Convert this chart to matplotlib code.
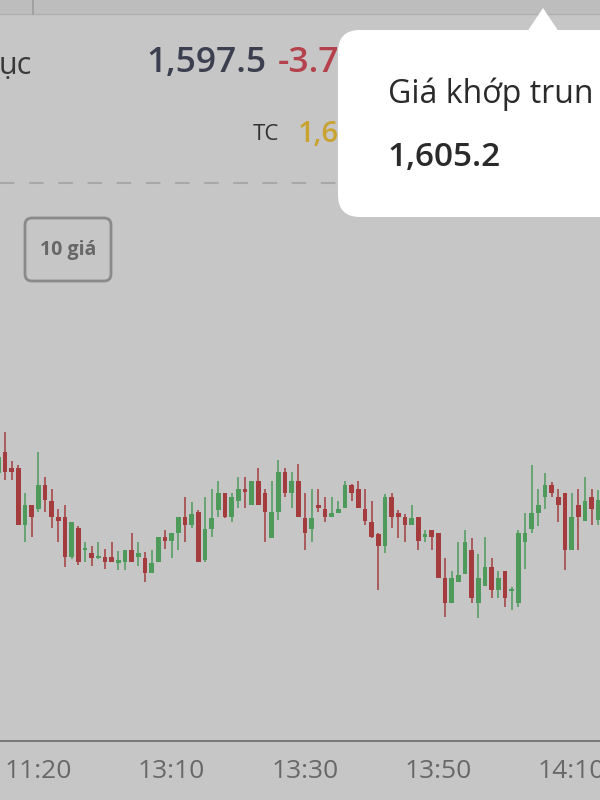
import numpy as np
import matplotlib.pyplot as plt
from matplotlib.patches import FancyBboxPatch, Polygon, Rectangle

plt.rcParams['font.family'] = ['Open Sans', 'DejaVu Sans']

# Nến 1 phút (giá mở, cao, thấp, đóng)
o = [1602.7, 1604.8, 1603.2, 1603.2, 1597.5, 1599.5, 1599.1, 1601.5, 1599.9, 1598.3,
     1598.3, 1594.3, 1597.2, 1595.0, 1594.7, 1594.2, 1594.3, 1594.3, 1593.7, 1593.8,
     1595.0, 1594.3, 1594.2, 1592.7, 1593.8, 1596.3, 1595.9, 1596.7, 1598.3, 1597.5,
     1598.8, 1594.0, 1597.1, 1599.0, 1600.7, 1598.3, 1599.9, 1601.1, 1599.5, 1601.9,
     1600.7, 1596.2, 1598.8, 1602.8, 1600.7, 1601.9, 1598.2, 1597.1, 1599.5, 1599.1,
     1598.3, 1598.7, 1599.2, 1601.5, 1601.1, 1599.1, 1597.8, 1596.6, 1595.4, 1600.3,
     1598.7, 1598.3, 1597.5, 1598.3, 1596.3, 1597.0, 1596.7, 1592.2, 1589.7, 1591.8,
     1592.6, 1595.0, 1589.7, 1591.4, 1593.3, 1591.0, 1592.9, 1590.9, 1589.7, 1595.8,
     1597.1, 1598.7, 1600.3, 1601.5, 1600.3, 1600.7, 1595.0, 1599.5, 1597.9, 1600.3,
     1598.0]
h = [1604.5, 1606.8, 1603.9, 1603.5, 1600.7, 1599.5, 1604.8, 1602.3, 1601.1, 1599.1,
     1599.5, 1597.8, 1597.4, 1595.8, 1595.4, 1595.8, 1595.1, 1595.8, 1594.9, 1595.0,
     1596.7, 1595.8, 1594.8, 1595.0, 1596.3, 1597.0, 1596.7, 1598.3, 1600.3, 1599.8,
     1599.0, 1600.3, 1601.1, 1601.9, 1600.7, 1600.7, 1602.3, 1602.3, 1601.9, 1603.2,
     1601.1, 1601.9, 1604.0, 1603.2, 1602.8, 1603.6, 1600.7, 1601.1, 1601.1, 1600.3,
     1600.3, 1599.9, 1601.9, 1601.6, 1601.9, 1601.1, 1599.9, 1596.7, 1600.6, 1600.7,
     1599.0, 1598.6, 1599.5, 1598.3, 1597.0, 1597.0, 1596.7, 1594.2, 1592.9, 1595.8,
     1597.0, 1596.2, 1594.6, 1596.3, 1594.2, 1592.9, 1592.9, 1591.3, 1597.0, 1598.7,
     1603.5, 1601.1, 1602.7, 1601.8, 1601.1, 1600.7, 1600.7, 1601.1, 1602.3, 1601.1,
     1601.0]
l = [1601.2, 1602.0, 1602.0, 1597.5, 1595.8, 1596.3, 1598.8, 1598.8, 1597.2, 1595.8,
     1593.3, 1594.1, 1593.5, 1593.8, 1593.4, 1594.1, 1593.1, 1593.8, 1593.0, 1593.0,
     1593.8, 1593.4, 1591.8, 1592.7, 1593.8, 1595.1, 1594.2, 1595.0, 1595.8, 1597.2,
     1593.8, 1593.8, 1596.3, 1598.3, 1598.2, 1597.8, 1599.2, 1599.2, 1599.5, 1599.5,
     1595.8, 1596.2, 1598.0, 1600.3, 1599.2, 1598.3, 1595.0, 1595.8, 1598.8, 1597.8,
     1598.3, 1598.7, 1599.2, 1599.9, 1599.2, 1597.5, 1596.2, 1591.0, 1594.7, 1597.2,
     1596.2, 1595.8, 1597.5, 1595.0, 1595.8, 1595.0, 1592.2, 1588.3, 1589.7, 1591.8,
     1592.6, 1589.7, 1588.2, 1591.4, 1590.2, 1590.2, 1589.3, 1589.0, 1589.3, 1593.1,
     1596.7, 1597.4, 1599.1, 1600.3, 1597.8, 1593.0, 1595.0, 1595.0, 1597.9, 1597.5,
     1597.5]
c = [1604.3, 1602.8, 1602.8, 1597.5, 1599.5, 1598.3, 1601.5, 1600.0, 1598.3, 1597.9,
     1594.3, 1597.8, 1593.8, 1595.1, 1594.2, 1594.4, 1593.8, 1593.8, 1594.0, 1595.0,
     1593.8, 1594.7, 1592.7, 1593.7, 1596.3, 1595.9, 1596.7, 1598.3, 1597.5, 1598.6,
     1593.8, 1597.1, 1598.2, 1600.7, 1598.3, 1600.3, 1601.1, 1600.8, 1601.9, 1599.5,
     1598.8, 1598.8, 1602.8, 1600.7, 1601.9, 1598.3, 1596.7, 1598.2, 1599.2, 1598.3,
     1598.7, 1599.1, 1601.5, 1600.7, 1599.2, 1597.9, 1596.3, 1595.4, 1600.3, 1598.3,
     1598.3, 1597.5, 1598.2, 1595.9, 1596.6, 1596.3, 1592.2, 1589.7, 1592.2, 1592.5,
     1595.8, 1590.2, 1592.2, 1593.3, 1591.0, 1592.2, 1590.2, 1591.1, 1596.7, 1596.7,
     1598.7, 1599.5, 1601.5, 1600.7, 1599.5, 1595.0, 1598.3, 1598.3, 1599.9, 1599.1,
     1600.0]

tick_pos = [6, 26, 46, 66, 86]
tick_labels = ['11:20', '13:10', '13:30', '13:50', '14:10']

gia_hien_tai = '1,597.5'
thay_doi = '-3.7'
gia_tc = '1,601.2'
gia_khop_tb = '1,605.2'

bg = '#c6c6c6'
do = '#a43c3e'
xanh = '#4d9a5b'

fig = plt.figure(figsize=(6, 8), dpi=100)
fig.patch.set_facecolor(bg)

# Biểu đồ nến
ax = fig.add_axes([0, 0.07375, 1, 0.56375])
ax.set_facecolor(bg)
o = np.array(o); h = np.array(h); l = np.array(l); c = np.array(c)
x = np.arange(len(o))
mau = np.where(c >= o, xanh, do)
ax.vlines(x, l, h, colors=mau, lw=1.1, zorder=2)
than = np.maximum(np.abs(c - o), 0.25)
ax.bar(x, than, bottom=np.minimum(o, c), width=0.68, color=mau, zorder=3)
ax.set_xlim(0.25, 90.25)
ax.set_ylim(1575.9, 1621.0)
for s in ['top', 'left', 'right']:
    ax.spines[s].set_visible(False)
ax.spines['bottom'].set_color('#767676')
ax.spines['bottom'].set_linewidth(1.4)
ax.set_yticks([])
ax.set_xticks(tick_pos)
ax.set_xticklabels(tick_labels)
ax.tick_params(axis='x', length=0, pad=13, labelsize=19, labelcolor='#686868')

# Lớp phủ: chữ, nút, tooltip (toạ độ pixel)
ov = fig.add_axes([0, 0, 1, 1])
ov.set_xlim(0, 600)
ov.set_ylim(800, 0)
ov.axis('off')
ov.patch.set_alpha(0)

ov.add_patch(Rectangle((0, 0), 600, 14, facecolor='#bdbdbd', edgecolor='none'))
ov.plot([0, 600], [14, 14], color='#b0b0b0', lw=1)
ov.plot([33, 33], [0, 14], color='#9c9c9c', lw=1.2)

ov.text(-1, 66, 'ục', fontsize=22, color='#3a3a3a', va='center', ha='left')
ov.text(146, 63, gia_hien_tai, fontsize=25.5, color='#3b3f4f', weight='semibold',
        va='center', ha='left')
ov.text(278, 63, thay_doi, fontsize=25.5, color='#b4414b', weight='semibold',
        va='center', ha='left')
ov.text(253, 135, 'TC', fontsize=16, color='#333333', va='center', ha='left')
ov.text(298, 135, gia_tc, fontsize=21, color='#c9a330', weight='semibold',
        va='center', ha='left')
ov.plot([0, 336], [183, 183], color='#a8a8a8', lw=1.5, dashes=(7, 7))

ov.add_patch(FancyBboxPatch((25, 218), 86, 63, boxstyle='round,pad=0,rounding_size=7',
                            facecolor='none', edgecolor='#8a8a8a', lw=2))
ov.text(68, 250, '10 giá', fontsize=14, weight='bold', color='#676767',
        ha='center', va='center')

# Tooltip
ov.add_patch(FancyBboxPatch((338, 30), 300, 187, boxstyle='round,pad=0,rounding_size=22',
                            facecolor='white', edgecolor='none', zorder=5))
ov.add_patch(Polygon([[527, 32], [543, 8], [559, 32]], closed=True,
                     facecolor='white', edgecolor='none', zorder=5))
ov.text(388, 94, 'Giá khớp trun', fontsize=23, color='#2a2a2a',
        ha='left', va='center', zorder=6)
ov.text(388, 158, gia_khop_tb, fontsize=24, color='#2a2a2a', weight='semibold',
        ha='left', va='center', zorder=6)

fig.savefig('out.png', dpi=100, facecolor=bg)
